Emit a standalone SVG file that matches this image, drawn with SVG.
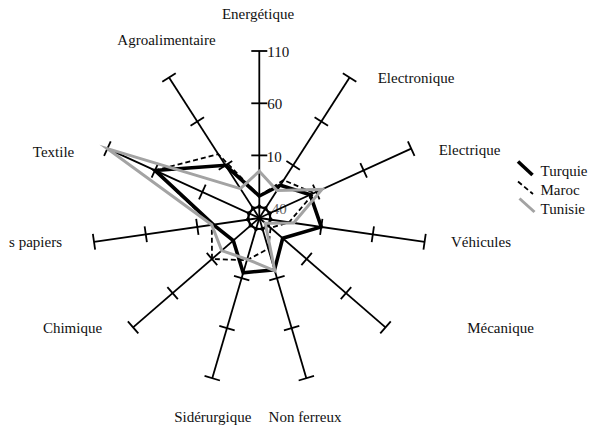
<svg xmlns="http://www.w3.org/2000/svg" xmlns:xlink="http://www.w3.org/1999/xlink" width="590" height="428" viewBox="0 0 590 428">
<style>
text{font-family:"Liberation Serif","Times New Roman",serif;font-size:15px;fill:#111}
.ax{stroke:#000;stroke-width:1.8;fill:none}
.tur{stroke:#000;stroke-width:3.6;fill:none;stroke-linejoin:miter;stroke-miterlimit:10}
.mar{stroke:#000;stroke-width:1.8;fill:none;stroke-dasharray:5 3}
.tun{stroke:#a3a3a3;stroke-width:3;fill:none;stroke-linejoin:miter;stroke-miterlimit:10}
.mid{text-anchor:middle}
</style>
<defs>
<g id="axis">
<line class="ax" x1="259.3" y1="218" x2="259.3" y2="51"/>
<line class="ax" x1="251.3" y1="207.57" x2="267.3" y2="207.57"/>
<line class="ax" x1="251.3" y1="155.4" x2="267.3" y2="155.4"/>
<line class="ax" x1="251.3" y1="103.3" x2="267.3" y2="103.3"/>
<line class="ax" x1="251.3" y1="51" x2="267.3" y2="51"/>
</g>
</defs>
<g id="tick-labels">
<text x="267.3" y="56.5">110</text>
<text x="267.3" y="109">60</text>
<text x="266.7" y="162">10</text>
<text x="271.7" y="214" fill="#666" style="fill:#666">40</text>
</g>
<g id="axes">
<g id="energetique"><use xlink:href="#axis"/><text class="mid" x="258" y="19">Energétique</text></g>
<g id="electronique"><use xlink:href="#axis" transform="rotate(32.727 259.3 218)"/><text class="mid" x="416" y="83">Electronique</text></g>
<g id="electrique"><use xlink:href="#axis" transform="rotate(65.455 259.3 218)"/><text class="mid" x="469.5" y="155">Electrique</text></g>
<g id="vehicules"><use xlink:href="#axis" transform="rotate(98.182 259.3 218)"/><text class="mid" x="481" y="247">Véhicules</text></g>
<g id="mecanique"><use xlink:href="#axis" transform="rotate(130.909 259.3 218)"/><text class="mid" x="500.5" y="333">Mécanique</text></g>
<g id="non-ferreux"><use xlink:href="#axis" transform="rotate(163.636 259.3 218)"/><text class="mid" x="305" y="422">Non ferreux</text></g>
<g id="siderurgique"><use xlink:href="#axis" transform="rotate(196.364 259.3 218)"/><text class="mid" x="212.8" y="422">Sidérurgique</text></g>
<g id="chimique"><use xlink:href="#axis" transform="rotate(229.091 259.3 218)"/><text class="mid" x="72.5" y="333">Chimique</text></g>
<g id="papiers"><use xlink:href="#axis" transform="rotate(261.818 259.3 218)"/><text x="62" y="246.5" text-anchor="end">s papiers</text></g>
<g id="textile"><use xlink:href="#axis" transform="rotate(294.545 259.3 218)"/><text class="mid" x="53.5" y="157">Textile</text></g>
<g id="agroalimentaire"><use xlink:href="#axis" transform="rotate(327.273 259.3 218)"/><text class="mid" x="166.5" y="45">Agroalimentaire</text></g>
</g>
<g id="series">
<polygon id="turquie" class="tur" points="259.3,196 280.4,185.2 310.2,194.7 321.3,226.9 282.7,238.3 274.5,269.8 243.2,272.7 233.3,240.5 213.3,224.6 155,170.4 225.5,165.3"/>
<polygon id="maroc" class="mar" points="259.3,196 283.6,180.1 313.9,193.1 289,222.3 270.6,227.8 268.3,248.7 246.9,260.2 212,259 211.8,224.8 155,170.4 218.3,154.2"/>
<polygon id="tunisie" class="tun" points="259.3,171.2 277,190.5 322,189.4 293.6,222.9 265.3,223.2 274.8,270.8 247.2,259.3 221.7,250.6 211.7,224.8 107.4,148.6 240.4,188.6"/>
</g>
<g id="legend">
<line class="tur" x1="518" y1="161.5" x2="532.5" y2="175"/>
<text x="540.5" y="176">Turquie</text>
<line class="mar" x1="518" y1="181.5" x2="533" y2="194"/>
<text x="540.5" y="195">Maroc</text>
<line class="tun" x1="519.5" y1="198.5" x2="534.5" y2="212"/>
<text x="540.5" y="214">Tunisie</text>
</g>
</svg>
